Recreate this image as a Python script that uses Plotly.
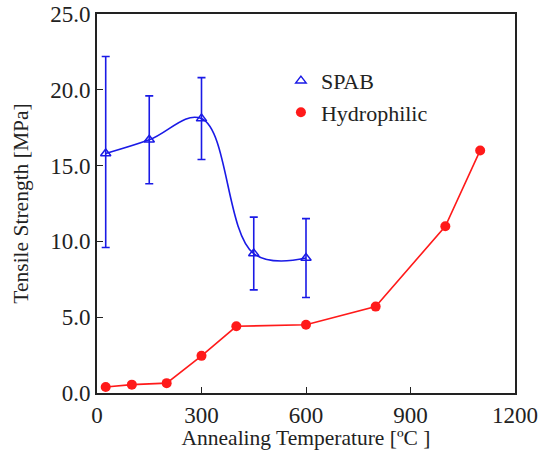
import plotly.graph_objects as go

spab_x = [25, 150, 300, 450, 600]
spab_y = [15.8, 16.7, 18.1, 9.2, 8.9]
spab_err_plus = [6.4, 2.9, 2.7, 2.4, 2.6]
spab_err_minus = [6.2, 2.9, 2.7, 2.4, 2.6]

hyd_x = [25, 100, 200, 300, 400, 600, 800, 1000, 1100]
hyd_y = [0.4, 0.55, 0.65, 2.45, 4.4, 4.5, 5.7, 11.0, 16.0]

x_ticks = [0, 300, 600, 900, 1200]
y_ticks = [0, 5, 10, 15, 20, 25]

BLUE = "#1a1ae6"
RED = "#ff1a1a"
FONT = "Times New Roman"
INK = "#222"

fig = go.Figure()
fig.add_trace(go.Scatter(x=spab_x, y=spab_y, mode="lines", line=dict(color=BLUE, width=1.6, shape="spline", smoothing=1.1),
                         showlegend=False, hoverinfo="skip"))
fig.add_trace(go.Scatter(x=spab_x, y=spab_y, mode="markers", name="SPAB", legendgroup="a",
                         marker=dict(symbol="triangle-up-open", size=9, color=BLUE, line=dict(width=1.5, color=BLUE)),
                         error_y=dict(type="data", symmetric=False, array=spab_err_plus, arrayminus=spab_err_minus,
                                      color=BLUE, thickness=1.6, width=4)))
fig.add_trace(go.Scatter(x=hyd_x, y=hyd_y, mode="lines", line=dict(color=RED, width=1.6),
                         showlegend=False, hoverinfo="skip"))
fig.add_trace(go.Scatter(x=hyd_x, y=hyd_y, mode="markers", name="Hydrophilic", legendgroup="b",
                         marker=dict(symbol="circle", size=10, color=RED)))

fig.update_layout(
    width=540, height=450,
    margin=dict(l=97, r=25, t=14, b=57, autoexpand=False),
    paper_bgcolor="white", plot_bgcolor="white",
    font=dict(family=FONT, size=22, color=INK),
    legend=dict(x=0.44, y=0.879, xanchor="left", yanchor="top", bgcolor="rgba(0,0,0,0)",
                font=dict(family=FONT, size=22, color=INK), tracegroupgap=0, itemwidth=30),
    xaxis=dict(range=[0, 1200], tickvals=x_ticks, ticktext=[str(v) for v in x_ticks],
               ticks="inside", ticklen=6, tickwidth=1.2, tickcolor=INK,
               showline=True, linecolor=INK, linewidth=1.8, mirror=True, showgrid=False, zeroline=False,
               title=dict(text="Annealing Temperature [ºC ]", font=dict(family=FONT, size=21.5, color=INK), standoff=5),
               tickfont=dict(family=FONT, size=23, color=INK)),
    yaxis=dict(range=[0, 25], tickvals=y_ticks, ticktext=[f"{v:.1f}" for v in y_ticks],
               ticks="inside", ticklen=6, tickwidth=1.2, tickcolor=INK,
               showline=True, linecolor=INK, linewidth=1.8, mirror=True, showgrid=False, zeroline=False,
               title=dict(text="Tensile Strength [MPa]", font=dict(family=FONT, size=21.5, color=INK), standoff=16),
               tickfont=dict(family=FONT, size=23, color=INK)),
)

fig.write_html("out.html")
